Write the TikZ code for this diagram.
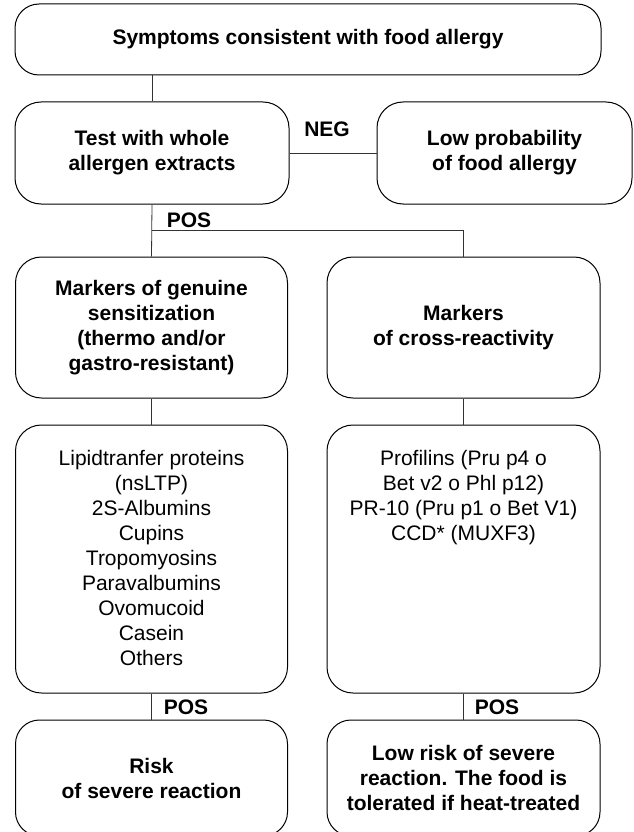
\documentclass[tikz,border=0pt]{standalone}
\usepackage{fontspec}
\setmainfont{Liberation Sans}
\begin{document}
\begin{tikzpicture}[x=1pt,y=1pt,
  box/.style={draw=black,line width=1pt,rounded corners=26pt,align=center,inner sep=0pt,
    font=\fontsize{21}{25}\selectfont\bfseries},
  listtxt/.style={align=center,inner sep=0pt,font=\fontsize{21}{25}\selectfont},
  lbl/.style={inner sep=0pt,font=\fontsize{21}{25}\selectfont\bfseries},
  conn/.style={draw=black!80,line width=0.8pt}]
\useasboundingbox (0,0) rectangle (634,-832);
\node[box,rounded corners=24pt,minimum width=586pt,minimum height=71pt] (top) at (308,-39.5) {Symptoms consistent with food allergy};
\node[box,minimum width=274pt,minimum height=102pt] (test) at (152,-153) {Test with whole\\allergen extracts};
\node[box,minimum width=255pt,minimum height=102pt] (low) at (504.5,-153) {Low probability\\of food allergy};
\node[box,minimum width=272pt,minimum height=141pt] (mg) at (151.5,-327.5) {Markers of genuine\\sensitization\\(thermo and/or\\gastro-resistant)};
\node[box,minimum width=273pt,minimum height=141pt] (mc) at (463.5,-327.5) {Markers\\of cross-reactivity};
\node[box,minimum width=272pt,minimum height=268pt] (lg) at (151.5,-559) {};
\node[box,minimum width=273pt,minimum height=268pt] (lc) at (463.5,-559) {};
\node[listtxt,anchor=north] (lgt) at (151.5,-450) {Lipidtranfer proteins\\(nsLTP)\\2S-Albumins\\Cupins\\Tropomyosins\\Paravalbumins\\Ovomucoid\\Casein\\Others};
\node[listtxt,anchor=north] (lct) at (463.5,-450) {Profilins (Pru p4 o\\Bet v2 o Phl p12)\\PR-10 (Pru p1 o Bet V1)\\CCD* (MUXF3)};
\node[box,rounded corners=24pt,minimum width=272pt,minimum height=116pt] (rg) at (151.5,-778) {Risk\\of severe reaction};
\node[box,rounded corners=24pt,minimum width=273pt,minimum height=116pt] (rc) at (463.5,-778) {Low risk of severe\\reaction. The food is\\tolerated if heat-treated};
\node[lbl] (neg) at (327,-129) {NEG};
\node[lbl] (pos1) at (189,-220) {POS};
\node[lbl] (pos2) at (186,-707) {POS};
\node[lbl] (pos3) at (497,-707) {POS};
\coordinate (split) at (152,-230);
\draw[conn] (test.north |- top.south) -- (test.north);
\draw[conn] (test.east) -- (low.west);
\draw[conn] (test.south) -- (mg.north);
\draw[conn] (split) -| (mc.north);
\draw[conn] (mg.south) -- (lg.north);
\draw[conn] (mc.south) -- (lc.north);
\draw[conn] (lg.south) -- (rg.north);
\draw[conn] (lc.south) -- (rc.north);
\end{tikzpicture}
\end{document}
